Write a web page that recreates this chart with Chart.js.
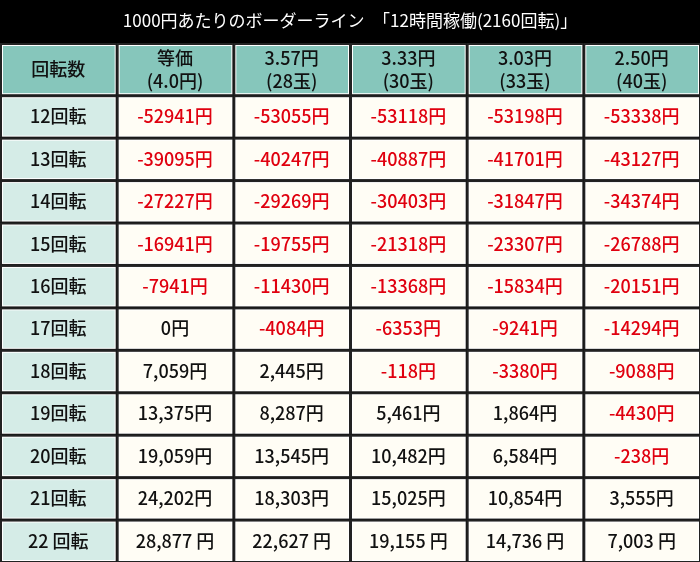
<!DOCTYPE html>
<html><head><meta charset="utf-8">
<script src="https://cdn.jsdelivr.net/npm/chart.js@4"></script>
<style>html,body{margin:0;padding:0;background:#000}#wrap{width:700px;height:562px}</style>
</head><body><div id="wrap"><canvas id="c"></canvas></div>
<script>
var titleText = '1000円あたりのボーダーライン　「12時間稼働(2160回転)」';
var cornerLabel = '回転数';
var colHeaders = [['等価', '(4.0円)'], ['3.57円', '(28玉)'], ['3.33円', '(30玉)'], ['3.03円', '(33玉)'], ['2.50円', '(40玉)']];
var rowLabels = ['12回転', '13回転', '14回転', '15回転', '16回転', '17回転', '18回転', '19回転', '20回転', '21回転', '22 回転'];
var rate40 = [-52941, -39095, -27227, -16941, -7941, 0, 7059, 13375, 19059, 24202, 28877];
var rate357 = [-53055, -40247, -29269, -19755, -11430, -4084, 2445, 8287, 13545, 18303, 22627];
var rate333 = [-53118, -40887, -30403, -21318, -13368, -6353, -118, 5461, 10482, 15025, 19155];
var rate303 = [-53198, -41701, -31847, -23307, -15834, -9241, -3380, 1864, 6584, 10854, 14736];
var rate250 = [-53338, -43127, -34374, -26788, -20151, -14294, -9088, -4430, -238, 3555, 7003];
var series = [rate40, rate357, rate333, rate303, rate250];

var HEAD = 1.23; // header row height in row units
var FONT = '500 18px "Noto Sans CJK JP"';
function fmt(v, last) {
    var s = v < 0 ? String(v) : v.toLocaleString('en-US');
    return s + (last ? ' 円' : '円');
}

var points = [];
for (var c = 0; c < series.length; c++) {
    for (var r = 0; r < rowLabels.length; r++) {
        points.push({ x: c + 1.5, y: HEAD + r + 0.5, v: series[c][r], row: r });
    }
}

var tablePlugin = {
    id: 'table',
    beforeDraw: function(chart) {
        var ctx = chart.ctx, xs = chart.scales.x, ys = chart.scales.y;
        ctx.save();
        ctx.fillStyle = '#000';
        ctx.fillRect(0, 0, chart.width, chart.height);
        ctx.fillStyle = '#fff';
        ctx.font = '17px "Noto Sans CJK JP"';
        ctx.textAlign = 'center';
        ctx.textBaseline = 'middle';
        ctx.fillText(titleText, chart.width / 2, 21);

        function cell(x0, x1, y0, y1, fill) {
            var a = xs.getPixelForValue(x0), b = xs.getPixelForValue(x1);
            var t = ys.getPixelForValue(y0), u = ys.getPixelForValue(y1);
            ctx.fillStyle = '#222';
            ctx.fillRect(a, t, b - a, u - t);
            ctx.fillStyle = '#fff';
            ctx.fillRect(a + 2, t + 2, b - a - 3, u - t - 3);
            ctx.fillStyle = fill;
            ctx.fillRect(a + 3, t + 3, b - a - 5, u - t - 5);
            return [(a + b) / 2, (t + u) / 2];
        }
        ctx.font = FONT;
        var p = cell(0, 1, 0, HEAD, '#86c6bb');
        ctx.fillStyle = '#111';
        ctx.fillText(cornerLabel, p[0], p[1]);
        for (var c = 0; c < colHeaders.length; c++) {
            p = cell(c + 1, c + 2, 0, HEAD, '#86c6bb');
            ctx.fillStyle = '#111';
            ctx.fillText(colHeaders[c][0], p[0], p[1] - 11);
            ctx.fillText(colHeaders[c][1], p[0], p[1] + 12);
        }
        for (var r = 0; r < rowLabels.length; r++) {
            p = cell(0, 1, HEAD + r, HEAD + r + 1, '#d5ece7');
            ctx.fillStyle = '#111';
            ctx.fillText(rowLabels[r], p[0], p[1]);
            for (c = 0; c < series.length; c++) cell(c + 1, c + 2, HEAD + r, HEAD + r + 1, '#fffdf5');
        }
        ctx.restore();
    },
    afterDatasetsDraw: function(chart) {
        var ctx = chart.ctx, xs = chart.scales.x, ys = chart.scales.y;
        ctx.save();
        ctx.font = FONT;
        ctx.textAlign = 'center';
        ctx.textBaseline = 'middle';
        points.forEach(function(pt) {
            ctx.fillStyle = pt.v < 0 ? '#e0000f' : '#111';
            ctx.fillText(fmt(pt.v, pt.row === rowLabels.length - 1), xs.getPixelForValue(pt.x), ys.getPixelForValue(pt.y));
        });
        ctx.restore();
    }
};

new Chart(document.getElementById('c'), {
    type: 'scatter',
    data: { datasets: [{ data: points, pointRadius: 0 }] },
    options: {
        responsive: true,
        maintainAspectRatio: false,
        animation: false,
        layout: { padding: { top: 43, left: 0, right: 0, bottom: 0 } },
        plugins: { legend: { display: false }, tooltip: { enabled: false } },
        scales: {
            x: { type: 'linear', min: 0, max: 6, display: false },
            y: { type: 'linear', min: 0, max: HEAD + rowLabels.length, reverse: true, display: false }
        }
    },
    plugins: [tablePlugin]
});
</script></body></html>
